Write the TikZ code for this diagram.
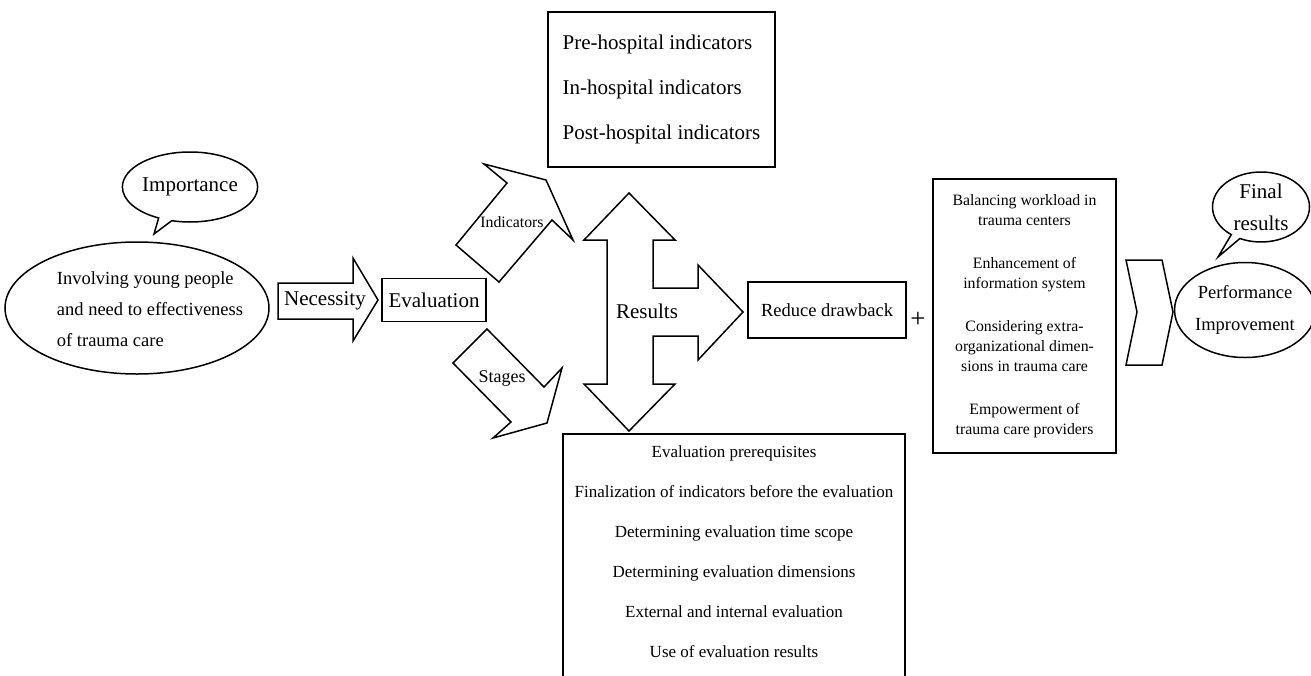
\documentclass[tikz,border=0pt]{standalone}
\usepackage{fontspec}
\setmainfont{Liberation Serif}
\usetikzlibrary{shapes.geometric,shapes.callouts}
\begin{document}
\begin{tikzpicture}[x=1pt,y=-1pt,
  shp/.style={draw, line width=1.5pt, line join=miter},
  big/.style={font=\fontsize{21}{24}\selectfont},
  med/.style={font=\fontsize{18.5}{31}\selectfont},
  txt/.style={inner sep=0pt}]
\clip (0,0) rectangle (1311,675);
\fill[white] (0,0) rectangle (1311,675);

% left ellipse
\node[shp, ellipse, minimum width=264, minimum height=132, inner sep=0] (inv) at (137,308) {};
\node[txt, align=left, med] (invt) at (150,309) {Involving young people\\and need to effectiveness\\of trauma care};

% importance callout
\node[shp, ellipse callout, minimum width=124, minimum height=70, inner sep=0,
  callout absolute pointer={(154,234)}, callout pointer arc=12, big] (imp) at (190,187) {Importance};

% necessity arrow
\draw[shp] (278,283) -- (353,283) -- (353,258) -- (378,300) -- (353,341) -- (353,319) -- (278,319) -- cycle;
\node[txt, big] (nec) at (325,301) {Necessity};

% evaluation
\node[shp, minimum width=104, minimum height=43, inner sep=0, big] (eval) at (434,300) {Evaluation};

% indicators arrow
\draw[shp] (456,245) -- (499,282) -- (552,220) -- (573,240) -- (546,180) -- (484,164) -- (507,183) -- cycle;
\node[txt, font=\fontsize{15.8}{18}\selectfont] (ind) at (512,222) {Indicators};

% stages arrow
\draw[shp] (453,363) -- (487,329) -- (544,387) -- (562,368) -- (547,423) -- (493,438) -- (511,422) -- cycle;
\node[txt, font=\fontsize{18}{20}\selectfont] (stg) at (502,378) {Stages};

% results triple arrow
\draw[shp] (629,193) -- (675,240) -- (653,240) -- (653,288) -- (698,288) -- (698,265) -- (743,312)
  -- (698,360) -- (698,336) -- (653,336) -- (653,384) -- (675,384) -- (629,431) -- (584,384)
  -- (607,384) -- (607,240) -- (584,240) -- cycle;
\node[txt, big] (res) at (647,311) {Results};

% top box
\node[shp, minimum width=227, minimum height=155, inner sep=0, align=left,
  font=\fontsize{21}{45}\selectfont] (ibox) at (661.5,89.5)
  {Pre-hospital indicators\\In-hospital indicators\\Post-hospital indicators};

% bottom box
\node[shp, minimum width=342, minimum height=300, inner sep=0] (sbox) at (734,584) {};
\node[txt, align=center, anchor=north, font=\fontsize{17}{40}\selectfont] (sboxt) at (734,445)
  {Evaluation prerequisites\\Finalization of indicators before the evaluation\\Determining evaluation time scope\\Determining evaluation dimensions\\External and internal evaluation\\Use of evaluation results};

% reduce drawback
\node[shp, minimum width=158, minimum height=56, inner sep=0, font=\fontsize{18.5}{22}\selectfont] (red) at (827,310) {Reduce drawback};
\node[txt, font=\fontsize{27}{30}\selectfont] (plus) at (918,320) {+};

% right box
\node[shp, minimum width=183, minimum height=274, inner sep=0, align=center,
  font=\fontsize{15.8}{20}\selectfont] (rbox) at (1024.5,316)
  {Balancing workload in\\trauma centers\\[23pt]Enhancement of\\information system\\[23pt]Considering extra-\\organizational dimen-\\sions in trauma care\\[23pt]Empowerment of\\trauma care providers};

% chevron
\draw[shp] (1126,260) -- (1162,260) -- (1173,312) -- (1162,365) -- (1126,365) -- (1137,312) -- cycle;

% performance
\node[shp, ellipse, minimum width=130, minimum height=95, inner sep=0, align=center,
  font=\fontsize{18.5}{32}\selectfont] (perf) at (1245,310) {Performance\\Improvement};

% final results callout
\node[shp, ellipse callout, minimum width=97, minimum height=70, inner sep=0, align=center,
  callout absolute pointer={(1218,257)}, callout pointer arc=12,
  font=\fontsize{21}{32}\selectfont] (fin) at (1261,207) {Final\\results};
\end{tikzpicture}
\end{document}
